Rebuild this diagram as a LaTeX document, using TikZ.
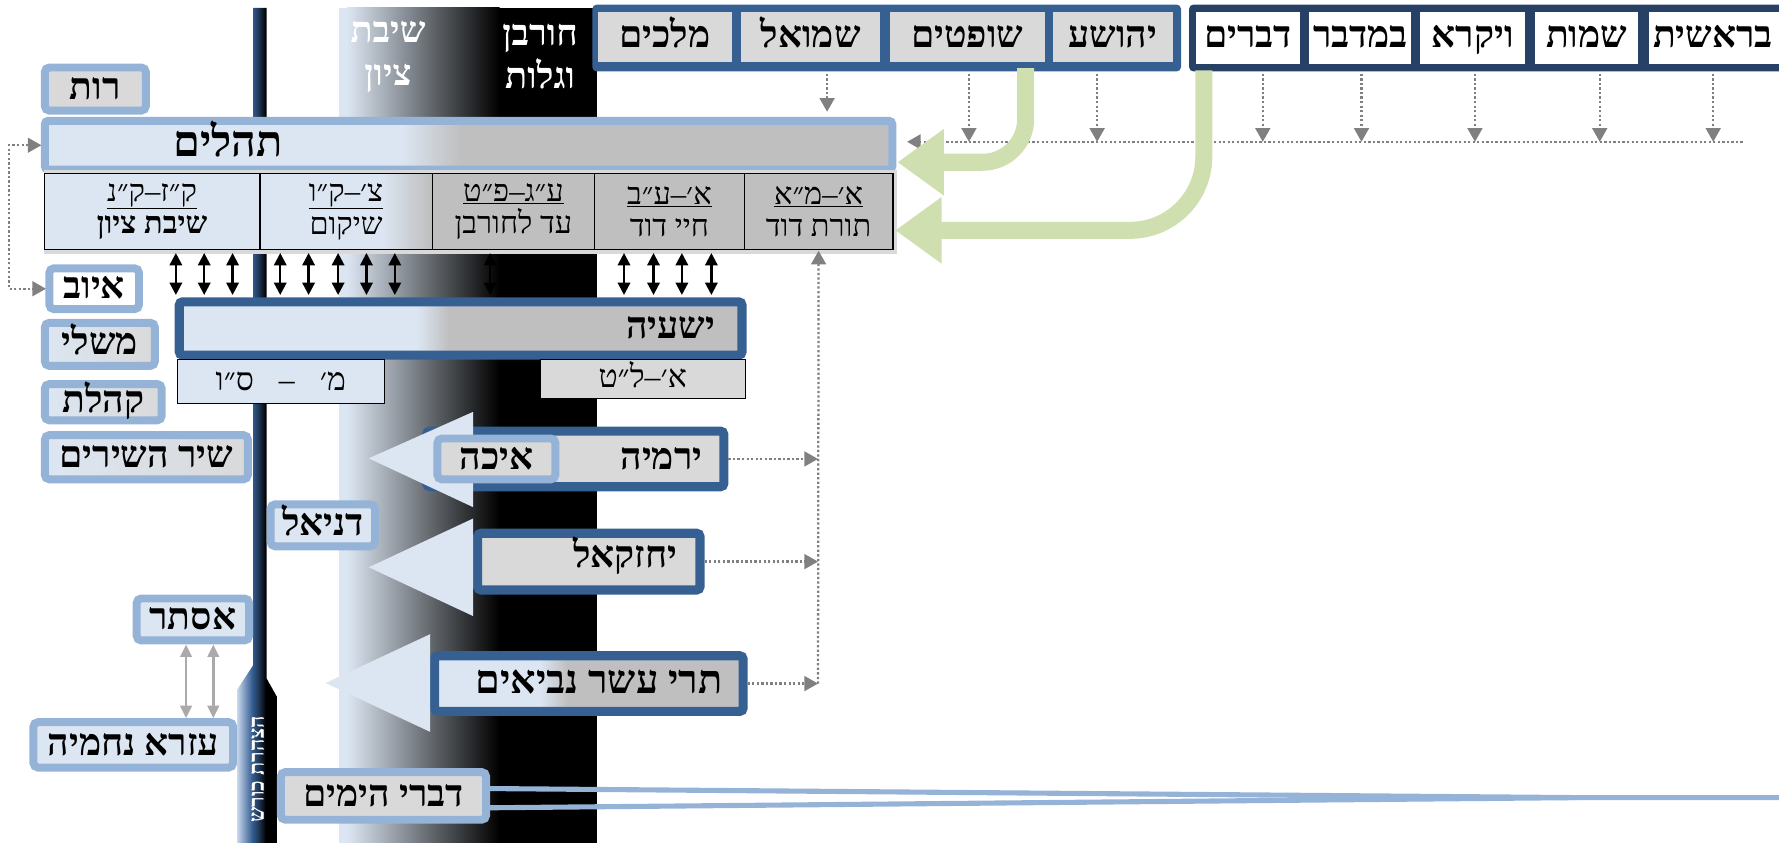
\documentclass[tikz,border=0pt]{standalone}
\usepackage{fontspec}
\usetikzlibrary{arrows.meta}
\newfontfamily\hebfont[Script=Hebrew]{Liberation Serif}
\TeXXeTstate=1
\newcommand\heb[1]{\beginR#1\endR}
\definecolor{navyT}{RGB}{39,64,102}
\definecolor{navyP}{RGB}{54,96,146}
\definecolor{lborder}{RGB}{149,179,215}
\definecolor{lfill}{RGB}{220,230,242}
\definecolor{gfill}{RGB}{217,217,217}
\definecolor{gdark}{RGB}{191,191,191}
\definecolor{grn}{RGB}{207,223,176}
\definecolor{dotc}{RGB}{128,128,128}
\definecolor{arrg}{RGB}{170,170,170}
\definecolor{cyL}{RGB}{200,215,236}
\definecolor{cyM}{RGB}{52,92,145}
\pgfdeclarehorizontalshading{cyrusshade}{100bp}{color(0bp)=(cyL); color(25bp)=(cyL); color(44bp)=(cyM); color(52bp)=(cyM!60!black); color(61bp)=(black); color(100bp)=(black)}
\newcommand\gradfill[6]{%
 \fill[lfill] (#1,#2) rectangle (#5,#4);
 \shade[left color=lfill,right color=gdark] (#5-0.3,#2) rectangle (#6+0.3,#4);
 \fill[gdark] (#6,#2) rectangle (#3,#4);}
\newcommand\bx[7]{%
 \pgfmathsetmacro\bxw{#4-#2}%
 \pgfmathsetmacro\bxh{#5-#3}%
 \node[#6,minimum width=\bxw pt,minimum height=\bxh pt] (#1) at ({(#2+#4)/2},{(#3+#5)/2}) {#7};}
\tikzset{
 hf/.style={font=\hebfont\bfseries\fontsize{#1}{#1}\selectfont},
 bookP/.style={fill=gfill,hf=33,text height=17pt,text depth=0pt},
 bookT/.style={fill=white,hf=33,text height=17pt,text depth=0pt},
 lbox/.style={draw=lborder,line width=7pt,rounded corners=4pt,hf=33,text height=18pt,text depth=0pt},
 nbox/.style={draw=navyP,line width=8pt,rounded corners=3pt},
 cellbox/.style={draw=black,line width=1.3pt,font=\hebfont\fontsize{27}{29}\selectfont,align=center},
 subbox/.style={draw=black,line width=0.8pt,font=\hebfont\fontsize{28}{28}\selectfont,text height=15pt,text depth=0pt},
 dotl/.style={draw=dotc,line width=2pt,dash pattern=on 2pt off 2pt},
 dota/.style={dotl,-{Triangle[width=13pt,length=12pt]}},
 dbla/.style={draw=black,line width=2pt,{Triangle[width=11pt,length=11pt]}-{Triangle[width=11pt,length=11pt]}},
 gra/.style={draw=arrg,line width=2.5pt,{Triangle[width=10pt,length=11pt]}-{Triangle[width=10pt,length=11pt]}},
 grnl/.style={draw=grn,line width=15pt,-{Triangle[width=56pt,length=41pt]}},
 dvl/.style={draw=lborder,line width=4.5pt},
 bandtxt/.style={text=white,font=\hebfont\bfseries\fontsize{32}{38}\selectfont,align=center},
 bigtxt/.style={hf=#1,text height=18pt,text depth=0pt},
}
\begin{document}
\begin{tikzpicture}[x=1pt,y=-1pt,every node/.style={inner sep=0pt,outer sep=0pt}]
\useasboundingbox (0,0) rectangle (1568,743);
% background band
\fill[lfill] (299,7) rectangle (306,743);
\shade[left color=lfill,right color=black] (305.7,7) rectangle (440.3,743);
\fill[black] (440,7) rectangle (526,743);
% Cyrus bar
\shade[shading=cyrusshade] (223,7) -- (235,7) -- (235,598) -- (244,614) -- (244,743) -- (209,743) -- (209,608) -- (223,586.5) -- cycle;
\node[rotate=90,text=white,font=\hebfont\bfseries\fontsize{19}{19}\selectfont] (cyrus) at (227,678) {\heb{הצהרת כורש}};
% band texts
\node[bandtxt] (shivat) at (342,50) {\heb{שיבת}\\\heb{ציון}};
\node[bandtxt] (churban) at (476,50) {\heb{חורבן}\\\heb{וגלות}};
% top groups
\fill[navyP,rounded corners=4pt] (522,4) rectangle (1041,63);
\fill[navyT,rounded corners=4pt] (1048,4) rectangle (1600,63);
\bx{mlachim}{527}{11}{645}{55}{bookP}{\heb{מלכים}}
\bx{shmuel}{653}{11}{776}{55}{bookP}{\heb{שמואל}}
\bx{shoftim}{784}{11}{921}{55}{bookP}{\heb{שופטים}}
\bx{yehoshua}{928}{11}{1034}{55}{bookP}{\heb{יהושע}}
\bx{dvarim}{1054}{11}{1146}{56}{bookT}{\heb{דברים}}
\bx{bamidbar}{1154}{11}{1244}{56}{bookT}{\heb{במדבר}}
\bx{vayikra}{1252}{11}{1344}{56}{bookT}{\heb{ויקרא}}
\bx{shmot}{1353}{11}{1444}{56}{bookT}{\heb{שמות}}
\bx{bereshit}{1453}{11}{1620}{56}{bookT}{}
\node[hf=33,anchor=west,text height=17pt,text depth=0pt] (bereshittxt) at (1457,33) {\heb{בראשית}};
% Tehilim box
\gradfill{39.5}{106.5}{786.5}{149.5}{354}{405}
\bx{tehilim}{39.5}{106.5}{786.5}{149.5}{draw=lborder,line width=7pt,rounded corners=3pt}{}
\node[bigtxt=38,text height=20pt] (tehilimtxt) at (201,128) {\heb{תהלים}};
% cells
\fill[gray!30] (39,150) rectangle (791,224);
\fill[lfill] (39,153) rectangle (229,220);
\gradfill{229}{153}{381}{220}{337}{379}
\fill[gdark] (381,153) rectangle (787,220);
\bx{c1}{39}{153}{229}{220}{cellbox}{\underline{\heb{ק״ז–ק״נ}}\\\heb{\bfseries שיבת ציון}}
\bx{c2}{229}{153}{381}{220}{cellbox}{\underline{\heb{צ׳–ק״ו}}\\\heb{שיקום}}
\bx{c3}{381}{153}{524}{220}{cellbox}{\underline{\heb{ע״ג–פ״ט}}\\\heb{עד לחורבן}}
\bx{c4}{524}{153}{656}{220}{cellbox}{\underline{\heb{א׳–ע״ב}}\\\heb{חיי דוד}}
\bx{c5}{656}{153}{787}{220}{cellbox}{\underline{\heb{א׳–מ״א}}\\\heb{תורת דוד}}
% dotted arrows from the books
\coordinate (hl) at (1536,125);
\foreach \n/\dx in {dvarim/13,bamidbar/1,vayikra/2,shmot/11.5,bereshit/-26.5}{
 \path ([xshift=\dx pt]\n.south) coordinate (t);
 \draw[dota] ([yshift=-9pt]t) -- (t |- hl);}
\foreach \n/\dx in {yehoshua/-14,shoftim/1.5}{
 \path ([xshift=\dx pt]\n.south) coordinate (t);
 \draw[dota] ([yshift=-10pt]t) -- (t |- hl);}
\path ([xshift=14.5pt]shmuel.south) coordinate (t);
\draw[dota,shorten >=8pt] ([yshift=-10pt]t) -- (t |- tehilim.north);
\draw[dota,shorten >=13pt] (hl) -- (hl -| tehilim.east);
% green arrows
\draw[grnl,rounded corners=38pt] ([xshift=-17pt,yshift=-5pt]shoftim.south east) |- ([shift={(4.5pt,-15pt)}]tehilim.east);
\draw[grnl,rounded corners=65pt] ([xshift=7pt,yshift=-6pt]dvarim.south west) |- ([shift={(2pt,-16.5pt)}]c5.east);
% left column
\bx{rut}{39.5}{59.5}{128.5}{97.5}{lbox,fill=gfill}{\heb{רות}}
\bx{iyov}{43.5}{236.5}{122.5}{272.5}{lbox,fill=white}{\heb{איוב}}
\bx{mishlei}{39.5}{284.5}{136.5}{322.5}{lbox,left color=lfill,right color=gfill}{\heb{משלי}}
\bx{kohelet}{39.5}{338.5}{142.5}{370.5}{lbox,left color=lfill,right color=gfill}{\heb{קהלת}}
\bx{shir}{39.5}{383.5}{218.5}{422.5}{lbox,left color=lfill,right color=gfill}{\heb{שיר השירים}}
\bx{daniel}{238.5}{444.5}{330.5}{481.5}{lbox,fill=lfill}{\heb{דניאל}}
\bx{ester}{120.5}{527.5}{219.5}{564.5}{lbox,fill=lfill}{\heb{אסתר}}
\bx{ezra}{29.5}{636.5}{205.5}{676.5}{lbox,fill=lfill}{\heb{עזרא נחמיה}}
\coordinate (lx) at (8,0);
\draw[dotl,{Triangle[width=13pt,length=12pt]}-{Triangle[width=13pt,length=12pt]},shorten <=3pt,shorten >=3pt] (tehilim.west) -- (tehilim.west -| lx) -- (iyov.west -| lx) -- (iyov.west);
\foreach \x in {164,188}{
 \coordinate (t) at (\x,0);
 \draw[gra,shorten <=3.5pt,shorten >=3.5pt] (t |- ester.south) -- (t |- ezra.north);}
% Divrei hayamim
\coordinate (dv1) at (1390,703);
\coordinate (dvR) at (1600,703);
\bx{divrei}{247.5}{680.5}{428.5}{722.5}{lbox,fill=gfill}{\heb{דברי הימים}}
\draw[dvl] ([yshift=6.5pt]divrei.east) -- (dv1) -- (dvR);
\draw[dvl] ([yshift=-10.5pt]divrei.east) -- (dv1);
% Isaiah
\gradfill{158}{266}{654}{313}{368}{395}
\bx{isaiah}{158}{266}{654}{313}{nbox}{}
\node[bigtxt=33,text height=17pt] (isaiahtxt) at (591,289.5) {\heb{ישעיה}};
\bx{isA}{156}{317}{339}{356}{subbox,fill=lfill}{\heb{מ׳\hspace{22pt}–\hspace{22pt}ס״ו}}
\bx{isB}{476}{317}{657}{351}{subbox,fill=gfill}{\heb{א׳–ל״ט}}
\foreach \x in {155,180,205}{\coordinate (t) at (\x,0);
 \draw[dbla,shorten <=3pt,shorten >=6pt] (t |- c1.south) -- (t |- isaiah.north);}
\foreach \x in {247,272,298,323,348}{\coordinate (t) at (\x,0);
 \draw[dbla,shorten <=3pt,shorten >=6pt] (t |- c2.south) -- (t |- isaiah.north);}
\foreach \x in {432}{\coordinate (t) at (\x,0);
 \draw[dbla,shorten <=3pt,shorten >=6pt] (t |- c3.south) -- (t |- isaiah.north);}
\foreach \x in {550,576,601,627}{\coordinate (t) at (\x,0);
 \draw[dbla,shorten <=3pt,shorten >=6pt] (t |- c4.south) -- (t |- isaiah.north);}
% later prophets
\bx{jer}{376}{380}{638}{429}{nbox,fill=gfill}{}
\node[bigtxt=33] (jertxt) at (583,404.5) {\heb{ירמיה}};
\bx{yech}{421}{470}{617}{520}{nbox,fill=gfill}{}
\node[bigtxt=33] (yechtxt) at (551,491) {\heb{יחזקאל}};
\gradfill{383}{578}{655}{627}{476}{500}
\bx{trei}{383}{578}{655}{627}{nbox}{}
\node[bigtxt=35] (treitxt) at (528,602) {\heb{תרי עשר נביאים}};
\fill[lfill] (417,363) -- (417,447) -- (325,404) -- cycle;
\fill[lfill] (417,457) -- (417,543) -- (325,500) -- cycle;
\fill[lfill] (379,559) -- (379,645) -- (287,602) -- cycle;
\bx{eikha}{385.5}{386.5}{489.5}{422.5}{lbox,fill=gfill}{\heb{איכה}}
% dotted links to Torat David
\coordinate (vj) at (721,0);
\draw[dota,shorten <=4pt] (jer.east) -- (jer.east -| vj);
\draw[dota,shorten <=4pt] (yech.east) -- (yech.east -| vj);
\draw[dota,shorten <=4pt] (trei.east) -- (trei.east -| vj);
\draw[dota,shorten >=1pt] (trei.east -| vj) -- (c5.south);
\end{tikzpicture}
\end{document}
